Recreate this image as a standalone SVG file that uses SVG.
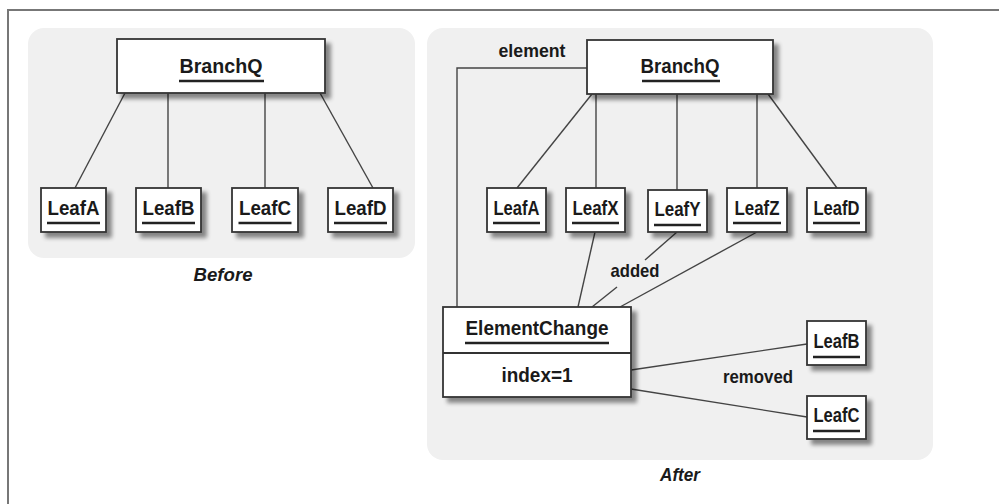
<svg xmlns="http://www.w3.org/2000/svg" width="999" height="504" viewBox="0 0 999 504">
<defs>
<filter id="sh" x="-20%" y="-20%" width="150%" height="160%">
<feGaussianBlur in="SourceAlpha" stdDeviation="2.2"/>
<feOffset dx="5" dy="5" result="b"/>
<feComponentTransfer><feFuncA type="linear" slope="0.45"/></feComponentTransfer>
<feMerge><feMergeNode/><feMergeNode in="SourceGraphic"/></feMerge>
</filter>
<style>
.frame{stroke:#777;stroke-width:2;fill:none}
.panel{fill:#f0f0f0}
.box{fill:#fff;stroke:#333;stroke-width:1.8}
.name{font-family:"Liberation Sans",Arial,sans-serif;font-weight:bold;font-size:21px;fill:#1a1a1a;text-anchor:middle}
.lbl{font-family:"Liberation Sans",Arial,sans-serif;font-weight:bold;font-size:19px;fill:#1a1a1a;text-anchor:middle}
.cap{font-family:"Liberation Sans",Arial,sans-serif;font-weight:bold;font-style:italic;font-size:19px;fill:#1a1a1a;text-anchor:middle}
.ul{stroke:#222;stroke-width:2.6}
.conn line,.conn polyline{stroke:#444;stroke-width:1.4;fill:none}
</style>
</defs>
<g id="frame">
<line class="frame" x1="7" y1="10" x2="999" y2="10"/>
<line class="frame" x1="8" y1="9" x2="8" y2="504"/>
</g>
<g id="panels">
<rect class="panel" x="28" y="28" width="387" height="230" rx="16"/>
<rect class="panel" x="427" y="28" width="506" height="432" rx="16"/>
<text class="cap" x="223" y="281" textLength="59" lengthAdjust="spacingAndGlyphs">Before</text>
<text class="cap" x="680" y="481" textLength="40" lengthAdjust="spacingAndGlyphs">After</text>
</g>
<g class="conn" id="connectors">
<line x1="125" y1="93" x2="75" y2="188"/>
<line x1="168" y1="93" x2="168" y2="188"/>
<line x1="265" y1="93" x2="265" y2="188"/>
<line x1="320" y1="93" x2="373" y2="188"/>
<line x1="592" y1="94" x2="517" y2="188"/>
<line x1="596" y1="94" x2="596" y2="188"/>
<line x1="677" y1="94" x2="677" y2="190"/>
<line x1="757" y1="94" x2="757" y2="188"/>
<line x1="768" y1="94" x2="837" y2="188"/>
<polyline points="587,68 457,68 457,307"/>
<line x1="595" y1="232" x2="578" y2="307"/>
<line x1="677" y1="232" x2="645" y2="260"/>
<line x1="617" y1="287" x2="592" y2="307"/>
<line x1="757" y1="232" x2="620" y2="307"/>
<line x1="631" y1="370" x2="807" y2="344"/>
<line x1="631" y1="389" x2="807" y2="417"/>
<text class="lbl" x="532" y="57" textLength="67" lengthAdjust="spacingAndGlyphs">element</text>
<text class="lbl" x="635" y="277" textLength="49" lengthAdjust="spacingAndGlyphs">added</text>
<text class="lbl" x="758" y="383" textLength="70" lengthAdjust="spacingAndGlyphs">removed</text>
</g>
<g id="before-branchq">
<rect class="box" x="117" y="39" width="208" height="54" filter="url(#sh)"/>
<text class="name" x="221" y="73" textLength="83" lengthAdjust="spacingAndGlyphs">BranchQ</text>
<line class="ul" x1="179" y1="81" x2="264" y2="81"/>
</g>
<g id="before-leafa">
<rect class="box" x="41" y="188" width="65" height="44" filter="url(#sh)"/>
<text class="name" x="73.5" y="215" textLength="52" lengthAdjust="spacingAndGlyphs">LeafA</text>
<line class="ul" x1="47" y1="223" x2="100" y2="223"/>
</g>
<g id="before-leafb">
<rect class="box" x="136" y="188" width="65" height="44" filter="url(#sh)"/>
<text class="name" x="168.5" y="215" textLength="52" lengthAdjust="spacingAndGlyphs">LeafB</text>
<line class="ul" x1="142" y1="223" x2="195" y2="223"/>
</g>
<g id="before-leafc">
<rect class="box" x="232" y="188" width="66" height="44" filter="url(#sh)"/>
<text class="name" x="265" y="215" textLength="52" lengthAdjust="spacingAndGlyphs">LeafC</text>
<line class="ul" x1="238.5" y1="223" x2="291.5" y2="223"/>
</g>
<g id="before-leafd">
<rect class="box" x="328" y="188" width="65" height="44" filter="url(#sh)"/>
<text class="name" x="360.5" y="215" textLength="52" lengthAdjust="spacingAndGlyphs">LeafD</text>
<line class="ul" x1="334" y1="223" x2="387" y2="223"/>
</g>
<g id="after-branchq">
<rect class="box" x="587" y="40" width="186" height="54" filter="url(#sh)"/>
<text class="name" x="680" y="73" textLength="79" lengthAdjust="spacingAndGlyphs">BranchQ</text>
<line class="ul" x1="642" y1="81" x2="720" y2="81"/>
</g>
<g id="after-leafa">
<rect class="box" x="487" y="188" width="59" height="44" filter="url(#sh)"/>
<text class="name" x="516.5" y="215" textLength="46" lengthAdjust="spacingAndGlyphs">LeafA</text>
<line class="ul" x1="493" y1="223" x2="540" y2="223"/>
</g>
<g id="after-leafx">
<rect class="box" x="566" y="188" width="59" height="44" filter="url(#sh)"/>
<text class="name" x="595.5" y="215" textLength="46" lengthAdjust="spacingAndGlyphs">LeafX</text>
<line class="ul" x1="572" y1="223" x2="619" y2="223"/>
</g>
<g id="after-leafy">
<rect class="box" x="648" y="190" width="59" height="42" filter="url(#sh)"/>
<text class="name" x="677.5" y="216" textLength="46" lengthAdjust="spacingAndGlyphs">LeafY</text>
<line class="ul" x1="654" y1="225" x2="701" y2="225"/>
</g>
<g id="after-leafz">
<rect class="box" x="727" y="188" width="60" height="44" filter="url(#sh)"/>
<text class="name" x="757" y="215" textLength="45" lengthAdjust="spacingAndGlyphs">LeafZ</text>
<line class="ul" x1="733" y1="223" x2="781" y2="223"/>
</g>
<g id="after-leafd">
<rect class="box" x="807" y="188" width="59" height="44" filter="url(#sh)"/>
<text class="name" x="836.5" y="215" textLength="46" lengthAdjust="spacingAndGlyphs">LeafD</text>
<line class="ul" x1="813" y1="223" x2="860" y2="223"/>
</g>
<g id="after-leafb">
<rect class="box" x="807" y="321" width="59" height="44" filter="url(#sh)"/>
<text class="name" x="836.5" y="348" textLength="46" lengthAdjust="spacingAndGlyphs">LeafB</text>
<line class="ul" x1="813" y1="357" x2="860" y2="357"/>
</g>
<g id="after-leafc">
<rect class="box" x="807" y="396" width="59" height="43" filter="url(#sh)"/>
<text class="name" x="836.5" y="422" textLength="46" lengthAdjust="spacingAndGlyphs">LeafC</text>
<line class="ul" x1="813" y1="431" x2="860" y2="431"/>
</g>
<g id="elementchange">
<rect class="box" x="443" y="307" width="188" height="90" filter="url(#sh)"/>
<line x1="443" y1="353" x2="631" y2="353" stroke="#333" stroke-width="1.8"/>
<text class="name" x="537" y="335" textLength="143" lengthAdjust="spacingAndGlyphs">ElementChange</text>
<line class="ul" x1="465" y1="343" x2="609" y2="343"/>
<text class="name" x="537" y="382" textLength="71" lengthAdjust="spacingAndGlyphs">index=1</text>
</g>
</svg>
